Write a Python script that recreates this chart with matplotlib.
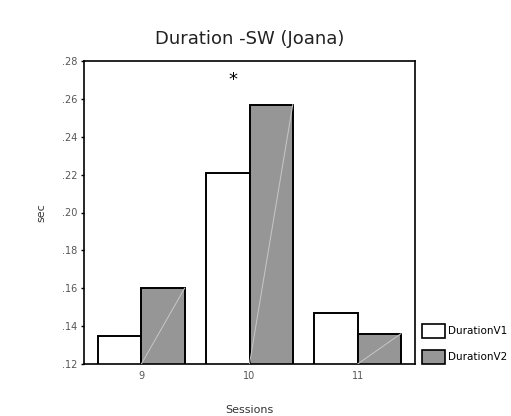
import numpy as np
import matplotlib.pyplot as plt
from matplotlib.patches import Patch

plt.rcParams["font.family"] = "DejaVu Sans"

sessions = [9, 10, 11]
duration_v1 = [0.135, 0.221, 0.147]
duration_v2 = [0.160, 0.257, 0.136]
yticks = [0.12, 0.14, 0.16, 0.18, 0.20, 0.22, 0.24, 0.26, 0.28]
grey = '#969696'
width = 0.4

fig = plt.figure(figsize=(5.11, 4.16), dpi=100)
ax = fig.add_axes([84/511, 1 - 364/416, (415-84)/511, (364-61)/416])

x = np.array(sessions, dtype=float)
ax.bar(x - width/2, duration_v1, width, bottom=0, color='white', edgecolor='black', linewidth=1.4, zorder=2)
ax.bar(x + width/2, duration_v2, width, bottom=0, color=grey, edgecolor='black', linewidth=1.4, zorder=2)

# faint diagonal inside the grey bars
for xi, v in zip(x, duration_v2):
    ax.plot([xi, xi + width], [yticks[0], v], color='#c8c8c8', lw=0.7, zorder=3)

ax.set_xlim(8.47, 11.53)
ax.set_ylim(0.12, 0.28)
ax.set_yticks(yticks)
ax.set_yticklabels(['.%02d' % round(t*100) for t in yticks], fontsize=7, color='#555555')
ax.set_xticks(sessions)
ax.set_xticklabels([str(s) for s in sessions], fontsize=7, color='#555555')
ax.tick_params(axis='y', length=2, width=1, pad=3, direction='out')
ax.tick_params(axis='x', length=0, pad=5)
for s in ax.spines.values():
    s.set_linewidth(1.2)

ax.text(9.85, 0.270, '*', fontsize=13, ha='center', va='center')

ax.set_title('Duration -SW (Joana)', fontsize=13, pad=12, color='#222222')
ax.set_ylabel('sec', fontsize=8, color='#333333', labelpad=11)
ax.set_xlabel('Sessions', fontsize=8, color='#333333', labelpad=17)

handles = [Patch(facecolor='white', edgecolor='black', linewidth=1.2),
           Patch(facecolor=grey, edgecolor='black', linewidth=1.2)]
fig.legend(handles, ['DurationV1', 'DurationV2'], loc='upper left',
           bbox_to_anchor=(416/511, 1 - 318/416), frameon=False, fontsize=7.5,
           handlelength=2.2, handleheight=1.6, handletextpad=0.3, labelspacing=1.2,
           borderaxespad=0.2)

plt.savefig('out.png', dpi=100)
